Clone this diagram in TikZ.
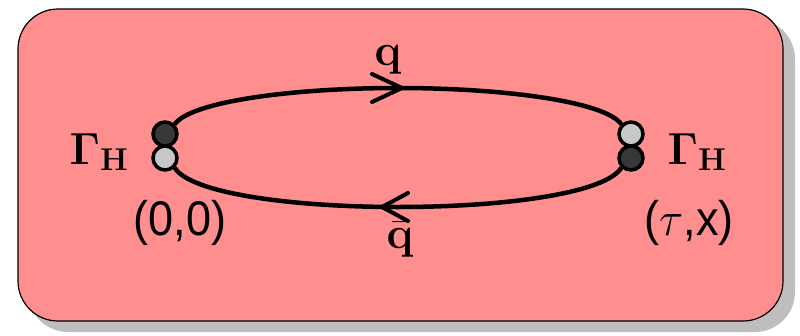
\RequirePackage{fix-cm}
\documentclass[tikz,border=0pt]{standalone}
\usepackage[no-math]{fontspec}
\setsansfont{Liberation Sans}
\usepackage{amsmath}
\definecolor{boxpink}{RGB}{255,142,142}
\definecolor{shadowgray}{RGB}{190,190,190}
\definecolor{dotdark}{RGB}{55,55,55}
\definecolor{dotlight}{RGB}{200,200,200}
\tikzset{
  dot/.style={circle, draw=black, line width=3.5pt, inner sep=0pt, minimum size=24pt},
  darkdot/.style={dot, fill=dotdark},
  lightdot/.style={dot, fill=dotlight},
  prop/.style={line width=4.5pt, black},
  chev/.style={line width=4pt, black, line cap=round},
  mathlab/.style={inner sep=0pt, font=\fontsize{45}{50}\selectfont},
  coordlab/.style={inner sep=0pt, font=\fontsize{45}{50}\selectfont\sffamily, yscale=1.08, transform shape},
}
\begin{document}
\begin{tikzpicture}[x=1pt,y=1pt]
\useasboundingbox (0,0) rectangle (800,-335);
% shadow and box
\fill[shadowgray, rounded corners=40pt] (28,-19) rectangle (795,-332);
\filldraw[fill=boxpink, draw=black, line width=1.2pt, rounded corners=40pt] (18,-9) rectangle (783,-321);
% vertices
\node[darkdot]  (Ld) at (165,-134) {};
\node[lightdot] (Ll) at (165,-158) {};
\node[lightdot] (Rl) at (631,-134) {};
\node[darkdot]  (Rd) at (631,-158) {};
% mid points of propagators
\coordinate (mtop) at (398,-88);
\coordinate (mbot) at (398,-207);
% propagators
\draw[prop] (Ld.north east) .. controls (190,-102) and (290,-88) .. (mtop)
  .. controls (506,-88) and (606,-102) .. (Rl.north west);
\draw[prop] (Ll.south east) .. controls (190,-193) and (290,-207) .. (mbot)
  .. controls (506,-207) and (606,-193) .. (Rd.south west);
% arrow chevrons
\draw[chev] ([shift={(-26,14)}]mtop) -- ([shift={(4,0)}]mtop) -- ([shift={(-26,-14)}]mtop);
\draw[chev] ([shift={(10,14)}]mbot) -- ([shift={(-16,0)}]mbot) -- ([shift={(10,-14)}]mbot);
% labels
\node[mathlab] (q) at (388,-60) {$\mathbf{q}$};
\node[mathlab] (qb) at (400,-240) {$\bar{\mathbf{q}}$};
\node[mathlab] (GL) at (99,-152) {$\mathbf{\Gamma_{H}}$};
\node[mathlab] (GR) at (697,-152) {$\mathbf{\Gamma_{H}}$};
\node[coordlab] (c0) at (180,-223) {(0,0)};
\node[coordlab] (c1) at (689,-223) {($\tau$,x)};
\end{tikzpicture}
\end{document}
